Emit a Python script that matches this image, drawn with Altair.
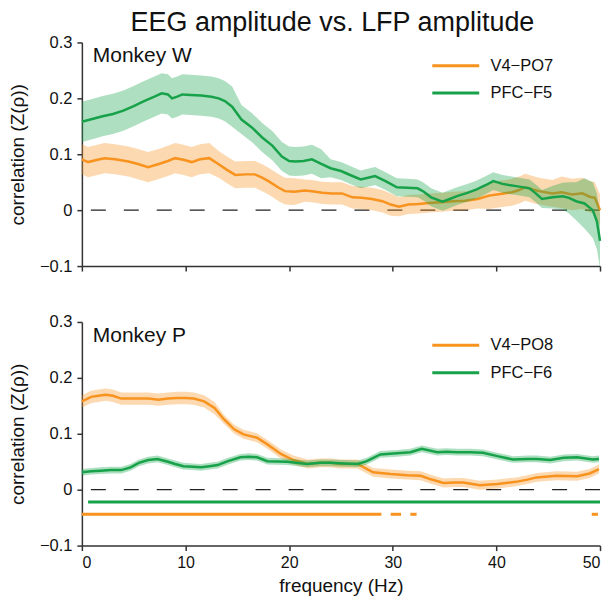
import altair as alt
import pandas as pd

ORANGE = "#F7931E"
GREEN = "#17A24A"

TITLE = "EEG amplitude vs. LFP amplitude"

# ---------------- Monkey W ----------------
w_v4_name = "V4\u2212PO7"
w_v4_f = [0, 0.6, 1.5, 2.2, 3.2, 4.5, 5.5, 6.4, 7.5, 8.3, 9.0, 9.8, 10.6, 11.4, 12.3, 13.2, 14.0, 14.8,
          15.8, 16.7, 17.4, 18.0, 19.0, 19.6, 20.5, 21.5, 22.2, 23.2, 24.1, 25.1, 26.1, 27.0, 28.0, 29.0,
          29.8, 30.6, 31.5, 32.5, 33.5, 34.7, 35.8, 37.0, 38.2, 39.3, 40.4, 41.5, 42.2, 42.8, 43.5, 44.1,
          45.4, 46.3, 47.3, 48.3, 49.0, 49.5, 50]
w_v4_v = [0.091, 0.086, 0.090, 0.093, 0.091, 0.087, 0.082, 0.077, 0.083, 0.088, 0.093, 0.090, 0.086, 0.091,
          0.093, 0.082, 0.072, 0.063, 0.064, 0.064, 0.058, 0.052, 0.040, 0.034, 0.033, 0.035, 0.034, 0.031,
          0.030, 0.030, 0.023, 0.022, 0.020, 0.016, 0.010, 0.006, 0.010, 0.011, 0.013, 0.014, 0.016, 0.017,
          0.020, 0.026, 0.029, 0.032, 0.036, 0.041, 0.037, 0.034, 0.030, 0.032, 0.028, 0.030, 0.024, 0.022, 0.0]
w_v4_e = [0.027] * 15 + [0.024] * 10 + [0.02] * 10 + [0.017] * 8 + [0.024] * 8 + [0.028] * 6

w_pfc_name = "PFC\u2212F5"
w_pfc_f = [0, 1, 2, 3, 4, 5, 6, 7, 7.7, 8.3, 8.7, 9.2, 9.7, 10.5, 11.5, 12.5, 13.2, 13.8, 14.5, 15.4, 16.4,
           17.4, 18.4, 19.3, 20.0, 20.6, 21.4, 22.2, 23.1, 24.0, 25.0, 26.0, 26.9, 27.6, 28.3, 29.3, 30.4,
           31.4, 32.4, 33.0, 33.7, 34.8, 35.5, 36.2, 37.2, 38.1, 39.0, 39.7, 40.6, 41.2, 41.9, 43.2, 43.8,
           44.4, 45.4, 46.4, 47.0, 47.7, 48.5, 49.3, 49.7, 50]
w_pfc_v = [0.158, 0.163, 0.168, 0.172, 0.178, 0.186, 0.195, 0.203, 0.209, 0.207, 0.200, 0.203, 0.207, 0.206,
           0.205, 0.203, 0.200, 0.195, 0.185, 0.162, 0.148, 0.130, 0.115, 0.096, 0.088, 0.087, 0.088, 0.091,
           0.083, 0.075, 0.070, 0.062, 0.055, 0.058, 0.061, 0.052, 0.041, 0.040, 0.039, 0.033, 0.023, 0.015,
           0.020, 0.025, 0.031, 0.037, 0.045, 0.052, 0.047, 0.045, 0.043, 0.039, 0.030, 0.020, 0.023, 0.025,
           0.022, 0.016, 0.012, 0.0, -0.02, -0.055]
w_pfc_e = [0.036] * 19 + [0.026] * 10 + [0.016] * 25 + [0.02, 0.024, 0.028, 0.034, 0.045, 0.05, 0.05, 0.048]

# ---------------- Monkey P ----------------
p_v4_name = "V4\u2212PO8"
p_v4_f = [0, 0.9, 1.6, 2.3, 3.0, 3.8, 5.0, 6.4, 7.4, 8.3, 9.2, 10.0, 10.8, 11.8, 12.8, 13.7, 14.7, 15.6,
          16.9, 17.9, 18.6, 19.2, 20.4, 21.8, 23.0, 24.0, 24.9, 26.6, 28.1, 29.8, 31.4, 32.7, 33.6, 34.9,
          36.0, 36.8, 38.4, 40.1, 41.9, 43.0, 43.9, 45.8, 47.8, 49.0, 49.9]
p_v4_v = [0.158, 0.166, 0.168, 0.170, 0.168, 0.163, 0.163, 0.163, 0.161, 0.163, 0.164, 0.164, 0.163, 0.158,
          0.146, 0.126, 0.108, 0.099, 0.093, 0.081, 0.072, 0.064, 0.053, 0.046, 0.048, 0.048, 0.046, 0.046,
          0.031, 0.028, 0.026, 0.025, 0.019, 0.012, 0.013, 0.013, 0.008, 0.010, 0.014, 0.018, 0.022, 0.025,
          0.024, 0.029, 0.037]
p_v4_e = [0.011] * 15 + [0.008] * 30

p_pfc_name = "PFC\u2212F6"
p_pfc_f = [0, 0.9, 1.8, 2.8, 3.8, 4.7, 5.5, 6.4, 7.3, 8.3, 9.0, 9.8, 10.7, 11.5, 12.3, 13.1, 14.1, 15.3,
           16.1, 16.9, 17.9, 19.8, 21.7, 23.0, 24.0, 25.3, 26.6, 27.5, 28.8, 30.4, 31.7, 32.8, 34.3, 35.2,
           36.2, 37.5, 38.7, 40.1, 41.6, 43.0, 43.9, 45.2, 46.5, 47.8, 49.3, 49.9]
p_pfc_v = [0.031, 0.033, 0.034, 0.035, 0.035, 0.040, 0.048, 0.053, 0.055, 0.050, 0.046, 0.042, 0.041, 0.040,
           0.042, 0.044, 0.051, 0.058, 0.059, 0.058, 0.051, 0.050, 0.046, 0.048, 0.048, 0.047, 0.046, 0.051,
           0.063, 0.065, 0.067, 0.073, 0.067, 0.068, 0.067, 0.067, 0.066, 0.060, 0.054, 0.055, 0.055, 0.053,
           0.057, 0.058, 0.054, 0.055]
p_pfc_e = [0.006] * 46

# significance bars (Monkey P)
sig_series = [p_pfc_name, p_v4_name, p_v4_name, p_v4_name, p_v4_name]
sig_start = [0.6, 0.0, 29.8, 31.7, 49.2]
sig_end = [50.0, 28.9, 30.8, 32.3, 49.8]
sig_level = [-0.022, -0.044, -0.044, -0.044, -0.044]

FONT = "Liberation Sans"


def series_df(name, f, v, e):
    return pd.DataFrame({
        "f": f, "v": v,
        "lo": [a - b for a, b in zip(v, e)],
        "hi": [a + b for a, b in zip(v, e)],
        "series": name,
    })


def panel(label, names, dfs, show_x, sig=None, title=None):
    xscale = alt.Scale(domain=[0, 50], nice=False)
    yscale = alt.Scale(domain=[-0.1, 0.3], nice=False)
    xaxis = alt.Axis(values=[0, 10, 20, 30, 40, 50], labels=show_x,
                     title="frequency (Hz)" if show_x else None, format="d")
    yaxis = alt.Axis(values=[-0.1, 0, 0.1, 0.2, 0.3], title="correlation (Z(\u03c1))",
                     labelExpr="datum.value == 0 ? '0' : format(datum.value, '.1f')")
    cscale = alt.Scale(domain=names, range=[ORANGE, GREEN])
    legend = alt.Legend(orient="none", legendX=351, legendY=15, title=None,
                        symbolType="M-4,0H4", symbolSize=138, symbolStrokeWidth=3,
                        symbolOffset=15.25,
                        labelFontSize=16.5, labelFont=FONT, labelOffset=26.5, rowPadding=10.5,
                        labelColor="#111")
    layers = []
    zero = alt.Chart(pd.DataFrame({"z": [0]})).mark_rule(
        color="#222", strokeWidth=1.3, strokeDash=[15, 18]).encode(
        y=alt.Y("z:Q", scale=yscale, axis=yaxis))
    layers.append(zero)
    for df, col in zip(dfs, [ORANGE, GREEN]):
        band = alt.Chart(df).mark_area(opacity=0.35, color=col).encode(
            x=alt.X("f:Q", scale=xscale, axis=xaxis),
            y=alt.Y("lo:Q", scale=yscale, axis=yaxis),
            y2="hi:Q",
        )
        line = alt.Chart(df).mark_line(strokeWidth=2.5).encode(
            x=alt.X("f:Q", scale=xscale, axis=xaxis),
            y=alt.Y("v:Q", scale=yscale, axis=yaxis),
            color=alt.Color("series:N", scale=cscale, legend=legend),
        )
        layers += [band, line]
    if sig is not None:
        bars = alt.Chart(sig).mark_rule(strokeWidth=3).encode(
            x=alt.X("s:Q", scale=xscale, axis=xaxis),
            x2="e:Q",
            y=alt.Y("y:Q", scale=yscale, axis=yaxis),
            color=alt.Color("series:N", scale=cscale, legend=legend),
        )
        layers.append(bars)
    text = alt.Chart(pd.DataFrame({"t": [label]})).mark_text(
        align="left", baseline="middle", fontSize=21, font=FONT, color="#111").encode(
        x=alt.value(11), y=alt.value(14), text="t:N")
    layers.append(text)
    if title is not None:
        ttl = alt.Chart(pd.DataFrame({"t": [title]})).mark_text(
            align="center", baseline="alphabetic", fontSize=27, font=FONT, color="#111").encode(
            x=alt.value(251), y=alt.value(-11.5), text="t:N")
        layers.append(ttl)
    return alt.layer(*layers).properties(width=519, height=224)


w_dfs = [series_df(w_v4_name, w_v4_f, w_v4_v, w_v4_e), series_df(w_pfc_name, w_pfc_f, w_pfc_v, w_pfc_e)]
p_dfs = [series_df(p_v4_name, p_v4_f, p_v4_v, p_v4_e), series_df(p_pfc_name, p_pfc_f, p_pfc_v, p_pfc_e)]
sig_df = pd.DataFrame({"series": sig_series, "s": sig_start, "e": sig_end, "y": sig_level})

top = panel("Monkey W", [w_v4_name, w_pfc_name], w_dfs, False, title=TITLE)
bottom = panel("Monkey P", [p_v4_name, p_pfc_name], p_dfs, True, sig_df)

chart = alt.vconcat(top, bottom, spacing=56, bounds="flush").resolve_scale(
    color="independent"
).resolve_legend(color="independent").properties(
    padding=0,
).configure_view(stroke=None).configure_axis(
    grid=False, domainColor="#333", domainWidth=1.5, tickColor="#333", tickWidth=1.5,
    tickSize=5, labelFont=FONT, labelFontSize=16.5, labelColor="#111", labelPadding=5,
    titleFont=FONT, titleFontSize=19, titleFontWeight="normal", titleColor="#111",
).configure_axisY(titlePadding=12).configure_axisX(titlePadding=6, labelFontSize=16, labelPadding=4)

chart.save("out.html", embed_options={"renderer": "svg", "actions": False})
